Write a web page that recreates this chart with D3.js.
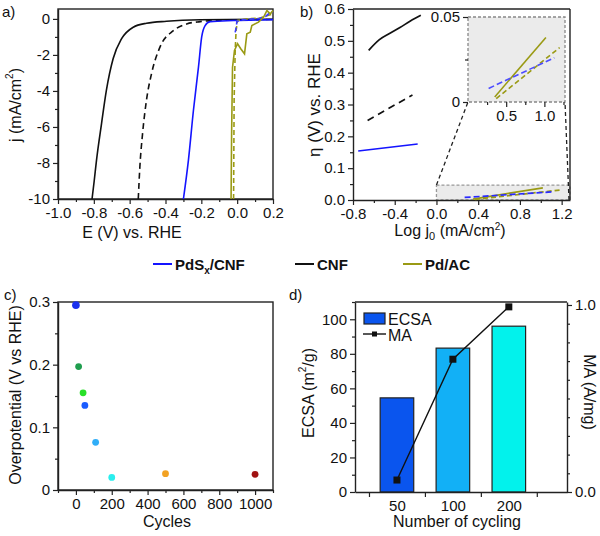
<!DOCTYPE html>
<html>
<head>
<meta charset="utf-8">
<script src="https://cdn.jsdelivr.net/npm/d3@7"></script>
<style>
  body { margin: 0; background: #fff; }
  svg { font-family: "Liberation Sans", Arial, sans-serif; }
</style>
</head>
<body>
<svg id="fig" width="600" height="536"></svg>
<script>
// ---- panel a: polarisation curves, [E (V vs RHE), j (mA/cm2)]
const cnfLsv = [[-0.81,-10],[-0.798,-9],[-0.785,-7.84],[-0.757,-5.81],[-0.73,-3.97],[-0.692,-2.2],[-0.645,-1.1],[-0.58,-0.46],[-0.506,-0.24],[-0.394,-0.13],[-0.207,-0.05],[0.2,-0.02]]
const cnfDashLsv = [[-0.552,-10],[-0.543,-8.2],[-0.528,-6.37],[-0.506,-4.5],[-0.478,-3.04],[-0.431,-1.57],[-0.356,-0.65],[-0.282,-0.28],[-0.207,-0.15],[-0.1,-0.08],[0.2,-0.03]]
const pdsLsv = [[-0.30,-10],[-0.272,-7.84],[-0.244,-5.07],[-0.216,-2.68],[-0.198,-1.0],[-0.179,-0.37],[-0.151,-0.15],[-0.02,-0.09],[0.2,-0.04]]
const pdsDashLsv = [[-0.011,-0.75],[-0.004,-0.4],[-0.002,-0.15],[0.02,-0.06],[0.09,0],[0.128,0.04],[0.16,0.15],[0.184,0.35],[0.2,0.4]]
const pdacLsv = [[-0.034,-10],[-0.031,-6.4],[-0.026,-2.7],[-0.015,-1.75],[0.002,-1.38],[0.02,-1.66],[0.041,-1.94],[0.054,-0.83],[0.073,-0.74],[0.082,-0.37],[0.119,-0.18],[0.147,0.09],[0.166,0.46],[0.185,0.28],[0.2,0.46]]
const pdacDashLsv = [[-0.02,-10],[-0.017,-4.5],[-0.011,-1.75],[-0.006,-0.65],[0.002,-0.09],[0.054,0],[0.129,0.05],[0.166,0.18],[0.2,0.28]]
const aTicksX = [-1.0,-0.8,-0.6,-0.4,-0.2,0.0,0.2]
const aTicksY = [-10,-8,-6,-4,-2,0]

// ---- panel b: Tafel lines, [log j0, eta]
const cnfTafel = [[-0.65,0.47],[-0.55,0.503],[-0.45,0.523],[-0.35,0.542],[-0.25,0.562],[-0.15,0.58]]
const cnfDashTafel = [[-0.66,0.25],[-0.23,0.33]]
const pdsTafel = [[-0.75,0.154],[-0.18,0.176]]
const pdsDashTafel = [[0.27,0.008],[1.13,0.026]]
const pdacTafel = [[0.35,0.003],[1.02,0.038]]
const pdacDashTafel = [[0.37,0.002],[1.2,0.032]]
const bTicksX = [-0.8,-0.4,0.0,0.4,0.8,1.2]
const bTicksY = [0.0,0.1,0.2,0.3,0.4,0.5,0.6]
const insetTicksX = [0.5,1.0]
const insetTicksY = [0,0.05]

// ---- panel c: overpotential vs cycles
const cycles = [0,15,40,50,110,200,500,1000]
const overpot = [0.295,0.197,0.155,0.135,0.076,0.020,0.026,0.025]
const cycleColors = ['#1a30ee','#1f9e4e','#28e028','#1a5cff','#30aef8','#2aeeee','#f2a224','#a01212']
const cTicksX = [0,200,400,600,800,1000]
const cTicksY = [0,0.1,0.2,0.3]

// ---- panel d: ECSA bars and mass activity
const cycling = ['50','100','200']
const ecsa = [54.5,83.3,96]
const massAct = [0.064,0.71,0.99]
const barColors = ['#0a55ee','#12b0f6','#02f2ec']
const dTicksY = [0,20,40,60,80,100]
const dTicksR = [0.0,1.0]

const BLUE = '#1414ff', OLIVE = '#9a9a14', INK = '#222'
const svg = d3.select('#fig')
const f1 = d => d3.format('.1f')(d).replace('\u2212','-')
const fInt = d => d3.format('d')(d).replace('\u2212','-')

// axis with long major ticks and short minor ones
function drawAxis(where, orient, scale, major, minor, fmt, pos, showMajorTicks){
    const mk = orient==='left' ? d3.axisLeft : orient==='right' ? d3.axisRight : d3.axisBottom
    const tr = orient==='bottom' ? `translate(0,${pos})` : `translate(${pos},0)`
    if (minor.length){
        where.append('g').attr('transform', tr)
            .call(mk(scale).tickValues(minor).tickSize(3).tickFormat(''))
            .call(g => g.select('.domain').remove())
            .selectAll('line').attr('stroke', INK).attr('stroke-width',1.2)
    }
    const g = where.append('g').attr('transform', tr)
        .call(mk(scale).tickValues(major).tickSize(showMajorTicks===false?0:5).tickPadding(showMajorTicks===false?8:3).tickSizeOuter(0).tickFormat(fmt))
    g.attr('font-family', null).attr('font-size', 15)
    g.select('.domain').attr('stroke', INK).attr('stroke-width',1.4)
    g.selectAll('line').attr('stroke', INK).attr('stroke-width',1.2)
    g.selectAll('text').attr('fill','#111')
    if (orient==='bottom') g.selectAll('text').attr('dy','0.71em').attr('y', 8)
    return g
}

function frame(where, x0, x1, y0, y1){
    where.append('rect').attr('x', x0).attr('y', y1).attr('width', x1-x0).attr('height', y0-y1)
        .attr('fill','none').attr('stroke', INK).attr('stroke-width',1.4)
}

function label(txt, x, y, opts){
    const t = svg.append('text').attr('x', x).attr('y', y).attr('font-size', (opts&&opts.size)||16)
        .attr('text-anchor', (opts&&opts.anchor)||'middle').attr('fill','#111')
    if (opts && opts.rot) t.attr('transform', `rotate(${opts.rot},${x},${y})`).attr('dominant-baseline','central')
    if (opts && opts.bold) t.attr('font-weight','bold')
    return t.text(txt)
}

// ================= panel a =================
const xa = d3.scaleLinear().domain([-1.0,0.2]).range([58,273])
const ya = d3.scaleLinear().domain([-10,0.55]).range([199,9])
const pa = svg.append('g')
drawAxis(pa,'bottom',xa,aTicksX,[-0.9,-0.7,-0.5,-0.3,-0.1,0.1],f1,199)
drawAxis(pa,'left',ya,aTicksY,[-9,-7,-5,-3,-1],fInt,58)
frame(pa,58,273,199,9)
const lineA = d3.line().x(d=>xa(d[0])).y(d=>ya(d[1]))
const lsv = [
    {d: cnfLsv, c: '#111', dash: null, curve: d3.curveMonotoneX},
    {d: cnfDashLsv, c: '#111', dash: '6,4', curve: d3.curveMonotoneX},
    {d: pdsLsv, c: BLUE, dash: null, curve: d3.curveMonotoneX},
    {d: pdacDashLsv, c: OLIVE, dash: '5,3', curve: d3.curveLinear},
    {d: pdsDashLsv, c: '#3a3aff', dash: '5,3', curve: d3.curveLinear},
    {d: pdacLsv, c: OLIVE, dash: null, curve: d3.curveLinear}
]
pa.selectAll('path.lsv').data(lsv).join('path').attr('class','lsv')
    .attr('d', s => lineA.curve(s.curve)(s.d))
    .attr('fill','none').attr('stroke', s=>s.c).attr('stroke-width',1.6)
    .attr('stroke-dasharray', s=>s.dash)
label('a)', 2, 17, {anchor:'start', size:15})
label('E (V) vs. RHE', 132, 238)
const ja = label('', 15, 105, {rot:-90})
ja.text('j (mA/cm'); ja.append('tspan').attr('font-size',10).attr('dy',-6).text('2'); ja.append('tspan').attr('dy',6).text(')')

// ================= panel b =================
const xb = d3.scaleLinear().domain([-0.8,1.28]).range([353,570])
const yb = d3.scaleLinear().domain([0,0.6]).range([200,9])
const pb = svg.append('g')
// shaded zoom window
pb.append('rect').attr('x', xb(0)).attr('y', yb(0.047)).attr('width', xb(1.28)-xb(0)).attr('height', yb(0)-yb(0.047))
    .attr('fill','#ebebeb').attr('stroke','#999').attr('stroke-dasharray','3,2').attr('stroke-width',1.3)
drawAxis(pb,'bottom',xb,bTicksX,[-0.6,-0.2,0.2,0.6,1.0],f1,200)
drawAxis(pb,'left',yb,bTicksY,[0.05,0.15,0.25,0.35,0.45,0.55],f1,353)
pb.append('line').attr('x1',353).attr('x2',570).attr('y1',9).attr('y2',9).attr('stroke',INK).attr('stroke-width',1.4)
pb.append('line').attr('x1',570).attr('x2',570).attr('y1',9).attr('y2',200).attr('stroke',INK).attr('stroke-width',1.4)
const lineB = d3.line().x(d=>xb(d[0])).y(d=>yb(d[1])).curve(d3.curveMonotoneX)
const tafel = [
    {d: cnfTafel, c: '#111', dash: null},
    {d: cnfDashTafel, c: '#111', dash: '7,5'},
    {d: pdsTafel, c: BLUE, dash: null},
    {d: pdacTafel, c: OLIVE, dash: null},
    {d: pdacDashTafel, c: OLIVE, dash: '5,3'},
    {d: pdsDashTafel, c: '#2a2aff', dash: '6,3'}
]
pb.selectAll('path.taf').data(tafel).join('path').attr('class','taf')
    .attr('d', s => lineB(s.d)).attr('fill','none').attr('stroke', s=>s.c)
    .attr('stroke-width',1.7).attr('stroke-dasharray', s=>s.dash)

// inset
const xi = d3.scaleLinear().domain([0,1.27]).range([468,565])
const yi = d3.scaleLinear().domain([0,0.05]).range([102,17])
const pi = svg.append('g')
pi.append('rect').attr('x',468).attr('y',17).attr('width',97).attr('height',85)
    .attr('fill','#ebebeb').attr('stroke','#888').attr('stroke-dasharray','3,2').attr('stroke-width',1.3)
const ia = drawAxis(pi,'bottom',xi,insetTicksX,[0.25,0.75,1.25],f1,102)
ia.select('.domain').remove()
const ib = drawAxis(pi,'left',yi,insetTicksY,[0.025],d=>d===0?'0':'0.05',468)
ib.select('.domain').remove()
const lineI = d3.line().x(d=>xi(d[0])).y(d=>yi(d[1]))
pi.selectAll('path.ins').data(tafel.slice(3)).join('path').attr('class','ins')
    .attr('d', s => lineI(s.d)).attr('fill','none').attr('stroke', s=>s.c==='#2a2aff'?'#4c4cff':s.c)
    .attr('stroke-width',1.6).attr('stroke-dasharray', s=>s.dash)
// connectors
pb.append('line').attr('x1',xb(0)).attr('y1',yb(0.047)).attr('x2',468).attr('y2',102)
    .attr('stroke','#222').attr('stroke-dasharray','4,3').attr('stroke-width',1.3)
pb.append('line').attr('x1',569).attr('y1',200).attr('x2',565).attr('y2',102)
    .attr('stroke','#222').attr('stroke-dasharray','4,3').attr('stroke-width',1.3)
label('b)', 300, 17, {anchor:'start', size:15})
const lb = label('', 450, 236)
lb.text('Log j'); lb.append('tspan').attr('font-size',11).attr('dy',4).text('0'); lb.append('tspan').attr('dy',-4).text(' (mA/cm')
lb.append('tspan').attr('font-size',10).attr('dy',-6).text('2'); lb.append('tspan').attr('dy',6).text(')')
label('\u03b7 (V) vs. RHE', 314, 105, {rot:-90, size:17})

// ================= legend =================
const legend = [
    {name:'PdS', sub:'x', tail:'/CNF', c:BLUE, x:153},
    {name:'CNF', sub:'', tail:'', c:'#111', x:295},
    {name:'Pd/AC', sub:'', tail:'', c:OLIVE, x:403}
]
const lg = svg.append('g').selectAll('g').data(legend).join('g')
lg.append('line').attr('x1',d=>d.x).attr('x2',d=>d.x+19).attr('y1',264).attr('y2',264)
    .attr('stroke',d=>d.c).attr('stroke-width',2)
lg.append('text').attr('x',d=>d.x+22).attr('y',270).attr('font-size',15).attr('font-weight','bold').attr('fill','#111')
    .each(function(d){
        const t = d3.select(this)
        t.append('tspan').text(d.name)
        if (d.sub){
            t.append('tspan').attr('font-size',10).attr('dy',4).text(d.sub)
            t.append('tspan').attr('dy',-4).text(d.tail)
        }
    })

// ================= panel c =================
const xc = d3.scaleLinear().domain([-100,1100]).range([58,273])
const yc = d3.scaleLinear().domain([0,0.3]).range([490,302])
const pc = svg.append('g')
drawAxis(pc,'bottom',xc,cTicksX,[-100,100,300,500,700,900,1100],fInt,490)
drawAxis(pc,'left',yc,cTicksY,[0.05,0.15,0.25],d=>d===0?'0':f1(d),58)
frame(pc,58,273,490,302)
pc.selectAll('circle').data(cycles).join('circle')
    .attr('cx', d=>xc(d)).attr('cy', (d,i)=>yc(overpot[i]))
    .attr('r', (d,i)=>i===0?3.8:3.4).attr('fill',(d,i)=>cycleColors[i])
label('c)', 4, 300, {anchor:'start', size:15})
label('Cycles', 167, 527)
label('Overpotential (V vs RHE)', 15, 395, {rot:-90})

// ================= panel d =================
const xd = d3.scaleLinear().domain([-0.75,3.04]).range([355,567])
const yd = d3.scaleLinear().domain([0,110]).range([492,302])
const yr = d3.scaleLinear().domain([0,1.016]).range([492,302])
const pd = svg.append('g')
const bw = xd(0.6)-xd(0)
pd.selectAll('rect.bar').data(ecsa).join('rect').attr('class','bar')
    .attr('x',(d,i)=>xd(i)-bw/2).attr('width',bw)
    .attr('y',d=>yd(d)).attr('height',d=>yd(0)-yd(d))
    .attr('fill',(d,i)=>barColors[i]).attr('stroke',INK).attr('stroke-width',1.2)
// category labels sit between ticks
drawAxis(pd,'bottom',xd,[0,1,2],[],i=>cycling[i],492,false)
pd.append('g').attr('transform','translate(0,492)')
    .call(d3.axisBottom(xd).tickValues([-0.5,0.5,1.5,2.5]).tickSize(5).tickFormat(''))
    .call(g=>g.select('.domain').remove())
    .selectAll('line').attr('stroke',INK).attr('stroke-width',1.2)
drawAxis(pd,'left',yd,dTicksY,[10,30,50,70,90,110],fInt,355)
drawAxis(pd,'right',yr,dTicksR,[0.1,0.2,0.3,0.4,0.5,0.6,0.7,0.8,0.9],f1,567)
pd.append('line').attr('x1',355).attr('x2',567).attr('y1',302).attr('y2',302).attr('stroke',INK).attr('stroke-width',1.4)
pd.append('path').datum(massAct)
    .attr('d', d3.line().x((d,i)=>xd(i)).y(d=>yr(d)))
    .attr('fill','none').attr('stroke','#111').attr('stroke-width',1.4)
pd.selectAll('rect.ma').data(massAct).join('rect').attr('class','ma')
    .attr('x',(d,i)=>xd(i)-3.5).attr('y',d=>yr(d)-3.5).attr('width',7).attr('height',7).attr('fill','#111')
// legend inside d
pd.append('rect').attr('x',364).attr('y',313).attr('width',21).attr('height',11)
    .attr('fill',barColors[0]).attr('stroke',INK).attr('stroke-width',1.2)
pd.append('text').attr('x',388).attr('y',325).attr('font-size',16).attr('fill','#111').text('ECSA')
pd.append('line').attr('x1',363).attr('x2',386).attr('y1',334).attr('y2',334).attr('stroke','#111').attr('stroke-width',1.4)
pd.append('rect').attr('x',372).attr('y',331.5).attr('width',5).attr('height',5).attr('fill','#111')
pd.append('text').attr('x',388).attr('y',341).attr('font-size',16).attr('fill','#111').text('MA')
label('d)', 289, 300, {anchor:'start', size:15})
label('Number of cycling', 457, 527)
const le = label('', 308, 393, {rot:-90})
le.text('ECSA (m'); le.append('tspan').attr('font-size',10).attr('dy',-6).text('2'); le.append('tspan').attr('dy',6).text('/g)')
label('MA (A/mg)', 589, 392, {rot:90})
</script>
</body>
</html>
